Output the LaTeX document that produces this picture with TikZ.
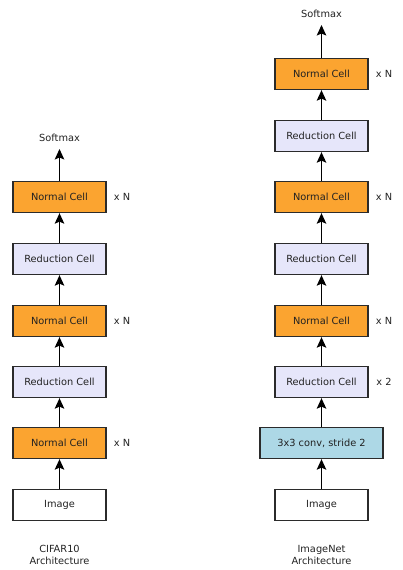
\documentclass[tikz,border=0pt]{standalone}
\usepackage{fontspec}
\setmainfont{DejaVu Sans}
\usetikzlibrary{arrows.meta}
\definecolor{normalc}{HTML}{FBA430}
\definecolor{reduc}{HTML}{E6E6FA}
\definecolor{convc}{HTML}{ADD8E6}
\definecolor{edgec}{HTML}{2B2B2B}
\definecolor{textc}{HTML}{222222}
\tikzset{
  x=1pt,y=-1pt,
  cell/.style={draw=edgec,line width=1.3pt,minimum width=93pt,minimum height=31pt,inner sep=0pt,text=textc,font=\fontsize{9.8}{11}\selectfont},
  normal/.style={cell,fill=normalc},
  reduce/.style={cell,fill=reduc},
  conv/.style={cell,fill=convc,minimum width=123pt},
  img/.style={cell,fill=white},
  lbl/.style={font=\fontsize{9.8}{11.5}\selectfont,text=textc,inner sep=1pt},
  arr/.style={-{Stealth[length=10.5pt,width=9.5pt,inset=2pt]},line width=1.5pt,black},
}
\begin{document}
\begin{tikzpicture}
\useasboundingbox (0,0) rectangle (402,570);
% left column
\node[img]    (li)  at (59.5,505) {Image};
\node[normal] (ln1) at (59.5,443) {Normal Cell};
\node[reduce] (lr1) at (59.5,382) {Reduction Cell};
\node[normal] (ln2) at (59.5,321) {Normal Cell};
\node[reduce] (lr2) at (59.5,259) {Reduction Cell};
\node[normal] (ln3) at (59.5,197) {Normal Cell};
\node[lbl]    (ls)  at (59.5,138) {Softmax};
\node[lbl] (lx1) at (122,443) {x N};
\node[lbl] (lx2) at (122,321) {x N};
\node[lbl] (lx3) at (122,197) {x N};
\node[lbl,align=center] (lt) at (59.5,555) {CIFAR10\\Architecture};
\draw[arr] (li) -- (ln1);
\draw[arr] (ln1) -- (lr1);
\draw[arr] (lr1) -- (ln2);
\draw[arr] (ln2) -- (lr2);
\draw[arr] (lr2) -- (ln3);
\draw[arr,shorten >=6pt] (ln3) -- (ls);
% right column
\node[img]    (ri)  at (321.5,505) {Image};
\node[conv]   (rc)  at (321.5,443) {3x3 conv, stride 2};
\node[reduce] (rr1) at (321.5,382) {Reduction Cell};
\node[normal] (rn1) at (321.5,321) {Normal Cell};
\node[reduce] (rr2) at (321.5,259) {Reduction Cell};
\node[normal] (rn2) at (321.5,197) {Normal Cell};
\node[reduce] (rr3) at (321.5,136) {Reduction Cell};
\node[normal] (rn3) at (321.5,74) {Normal Cell};
\node[lbl]    (rs)  at (321.5,14) {Softmax};
\node[lbl] (rx0) at (384,382) {x 2};
\node[lbl] (rx1) at (384,321) {x N};
\node[lbl] (rx2) at (384,197) {x N};
\node[lbl] (rx3) at (384,74) {x N};
\node[lbl,align=center] (rt) at (321.5,555) {ImageNet\\Architecture};
\draw[arr] (ri) -- (rc);
\draw[arr] (rc) -- (rr1);
\draw[arr] (rr1) -- (rn1);
\draw[arr] (rn1) -- (rr2);
\draw[arr] (rr2) -- (rn2);
\draw[arr] (rn2) -- (rr3);
\draw[arr] (rr3) -- (rn3);
\draw[arr,shorten >=6pt] (rn3) -- (rs);
\end{tikzpicture}
\end{document}
